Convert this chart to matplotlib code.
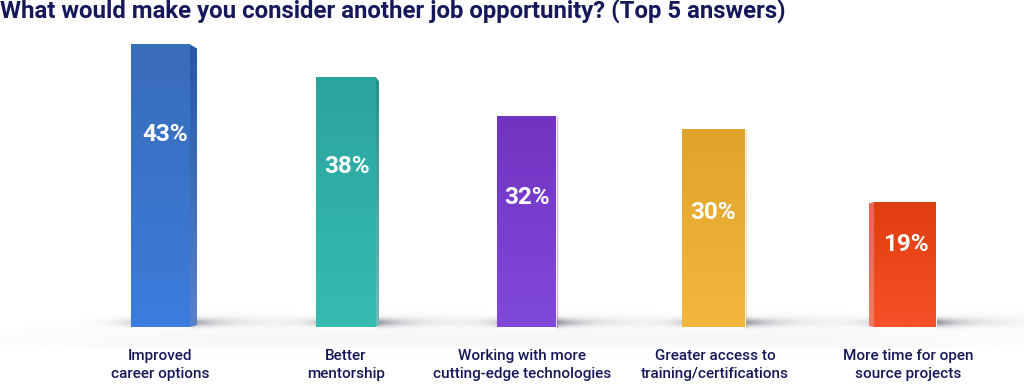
import numpy as np
import matplotlib
matplotlib.use("Agg")
import matplotlib.pyplot as plt
from matplotlib.patches import Polygon

categories = [
    "Improved\ncareer options",
    "Better\nmentorship",
    "Working with more\ncutting-edge technologies",
    "Greater access to\ntraining/certifications",
    "More time for open\nsource projects",
]
values = [43, 38, 32, 30, 19]
value_labels = ["43%", "38%", "32%", "30%", "19%"]
title = "What would make you consider another job opportunity? (Top 5 answers)"

W, H = 1024, 389
BASE = 327
PX_PER_PCT = 6.57

# pixel layout of each bar: left/right of the front face
lefts = [131, 316, 497, 682, 874]
rights = [190, 376, 556, 745, 936]
label_x = [160, 346, 522, 715, 908]
pct_x = [165, 347, 527, 713, 906]
pct_y = [134, 166, 197, 212, 244]
top_colors = ["#386db9", "#2ba49e", "#7233c2", "#e0a42a", "#df3e10"]
bot_colors = ["#3c7cdc", "#35bbb2", "#8049da", "#f3b73d", "#f65128"]
navy = "#15195a"


def hex_rgb(c):
    return np.array(matplotlib.colors.to_rgb(c))


def gradient(c1, c2):
    g = np.linspace(0, 1, 64)[:, None, None]
    return (1 - g) * hex_rgb(c1) + g * hex_rgb(c2)


fig = plt.figure(figsize=(W / 100, H / 100), dpi=100)
ax = fig.add_axes([0, 0, 1, 1])
ax.axis("off")

# soft floor shadow, built as a pixel layer
yy, xx = np.mgrid[0:H, 0:W].astype(float)
dark = 0.045 * np.exp(-((yy - 338) / 10.0) ** 2) * np.exp(-((xx - 520) / 500.0) ** 4)
for l, r in zip(lefts, rights):
    band = np.exp(-((yy - 322) / 4.0) ** 2)
    right_tail = np.where(xx > r, np.exp(-(xx - r) / 26.0), 0)
    left_tail = np.where(xx < l, np.exp(-(l - xx) / 16.0), 0)
    dark += band * (0.5 * right_tail + 0.2 * left_tail)
    # long faint streak between bars
    dark += 0.05 * np.exp(-((yy - 320) / 7.0) ** 2) * np.exp(-((xx - (r + 40)) / 80.0) ** 2)
shadow = np.ones((H, W, 4))
shadow[..., :3] = 0.2, 0.22, 0.28
shadow[..., 3] = np.clip(dark, 0, 1)
ax.imshow(shadow, extent=(0, W, H, 0), aspect="auto", zorder=1, interpolation="bilinear")

for i, v in enumerate(values):
    l, r = lefts[i], rights[i]
    top = BASE - v * PX_PER_PCT
    ax.imshow(gradient(top_colors[i], bot_colors[i]), extent=(l, r, BASE, top), aspect="auto", zorder=3)
    if i == 0 or i == 1:
        sw = 7 if i == 0 else 3
        poly = Polygon([(r, top), (r + sw, top + 4), (r + sw, BASE - 2), (r, BASE)],
                       closed=True, transform=ax.transData, fc="none", ec="none")
        ax.add_patch(poly)
        side = ax.imshow(gradient(["#2259a8", "#24908a"][i], ["#5a80c8", "#6fbdb8"][i]),
                         extent=(r, r + sw, BASE, top), aspect="auto", zorder=3)
        side.set_clip_path(poly)
    elif i == 4:
        poly = Polygon([(l - 5, top + 1), (l, top), (l, BASE), (l - 5, BASE - 1)],
                       closed=True, transform=ax.transData, fc="none", ec="none")
        ax.add_patch(poly)
        side = ax.imshow(gradient("#e8655a", "#f47a66"), extent=(l - 5, l, BASE, top),
                         aspect="auto", zorder=3)
        side.set_clip_path(poly)
    else:
        # thin pale edge on the flat looking bars
        ax.plot([r + 0.5, r + 0.5], [top, BASE], color=top_colors[i], alpha=0.35, lw=1, zorder=2)
    ax.text(pct_x[i], pct_y[i], value_labels[i], color="white", fontsize=17.5, fontweight="bold",
            family="Roboto", ha="center", va="center", zorder=4)
    ax.text(label_x[i], 365, categories[i], color=navy, fontsize=11, fontweight="medium",
            family="Roboto", ha="center", va="center", linespacing=1.4, zorder=4)

ax.set_xlim(0, W)
ax.set_ylim(H, 0)
ax.text(0, 11, title, color=navy, fontsize=17.25, fontweight="bold", family="Roboto",
        ha="left", va="center")

fig.savefig("out.png", dpi=100)
